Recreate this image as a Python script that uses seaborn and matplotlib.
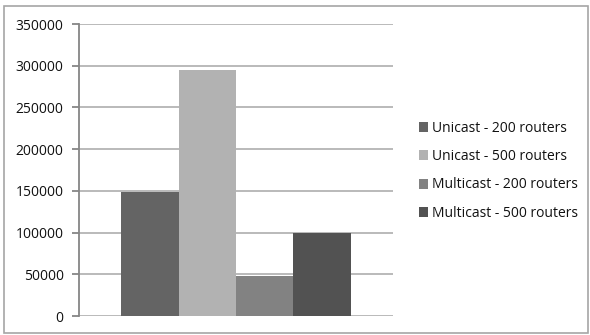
import matplotlib
matplotlib.use("Agg")
import matplotlib.pyplot as plt
import matplotlib.patches as mpatches
import pandas as pd
import seaborn as sns

series = ["Unicast - 200 routers", "Unicast - 500 routers",
          "Multicast - 200 routers", "Multicast - 500 routers"]
values = [149000, 295000, 48000, 100000]
colors = ["#646464", "#b2b2b2", "#828282", "#525252"]
yticks = [0, 50000, 100000, 150000, 200000, 250000, 300000, 350000]

df = pd.DataFrame({"group": [""] * len(series), "series": series, "value": values})

sns.set_theme(style="white")
plt.rcParams["font.family"] = ["Open Sans", "DejaVu Sans"]

fig = plt.figure(figsize=(5.9, 3.35), dpi=100)
ax = fig.add_axes([79 / 590, 1 - 316 / 335, (393 - 79) / 590, (316 - 24) / 335])

sns.barplot(data=df, x="group", y="value", hue="series", palette=colors,
            width=0.73, saturation=1, ax=ax, legend=False, zorder=3,
            linewidth=0, edgecolor="none")

ax.set_ylim(0, 350000)
ax.set_xlim(-0.5, 0.5)
ax.set_yticks(yticks)
ax.set_yticklabels([str(v) for v in yticks], fontsize=10, color="#111111")
ax.set_xticks([])
ax.set_xlabel("")
ax.set_ylabel("")
ax.yaxis.grid(True, color="#b4b4b4", linewidth=1.3, zorder=0)
ax.set_axisbelow(True)
for side in ("top", "right", "bottom"):
    ax.spines[side].set_visible(False)
ax.spines["left"].set_color("#868686")
ax.spines["left"].set_linewidth(1.3)
ax.tick_params(axis="y", which="both", left=True, length=5, width=1.3,
               color="#868686", pad=6)

handles = [mpatches.Patch(facecolor=c, edgecolor="none") for c in colors]
fig.legend(handles, series, loc="upper left", bbox_to_anchor=(413 / 590, 1 - 115 / 335),
           frameon=False, fontsize=10, handlelength=0.7, handleheight=0.7,
           handletextpad=0.3, labelspacing=0.97, borderaxespad=0,
           labelcolor="#111111")

border = mpatches.Rectangle((4 / 590, 1 - 333 / 335), 584 / 590, 327 / 335,
                            transform=fig.transFigure, fill=False,
                            edgecolor="#a6a6a6", linewidth=1.2)
fig.patches.append(border)

fig.savefig("out.png", dpi=100)
